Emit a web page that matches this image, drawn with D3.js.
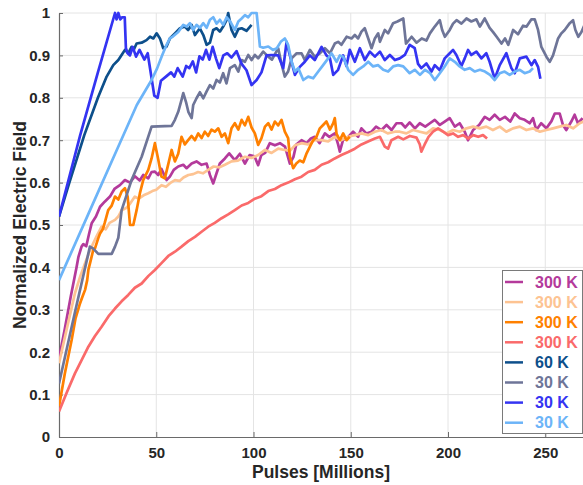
<!DOCTYPE html>
<html>
<head>
<meta charset="utf-8">
<script src="https://cdn.jsdelivr.net/npm/d3@7"></script>
<style>
  body { margin: 0; background: #fff; }
  svg { display: block; font-family: "Liberation Sans", Arial, sans-serif; }
</style>
</head>
<body>
<div id="chart"></div>
<script>
// Series values: [pulses (millions), normalized field]
const magenta300 = [[0,0.185],[3,0.255],[6,0.33],[9,0.4],[10,0.425],[11.6,0.449],[12.5,0.455],[14,0.45],[15.5,0.48],[16.8,0.504],[19,0.52],[21.1,0.543],[23.5,0.555],[26.2,0.567],[28.5,0.585],[31.3,0.594],[33.9,0.606],[36.5,0.6],[39,0.615],[41.5,0.605],[43.3,0.618],[45.9,0.61],[47.6,0.625],[49.3,0.626],[51,0.618],[52.7,0.632],[55.3,0.606],[57,0.614],[59,0.63],[61.3,0.638],[63.9,0.642],[65.6,0.634],[68.2,0.645],[70.7,0.65],[73.3,0.642],[75.9,0.645],[77.6,0.618],[79.3,0.598],[81,0.622],[82.7,0.645],[85.3,0.657],[87.5,0.669],[90.4,0.653],[93,0.668],[95.6,0.645],[98,0.665],[100.5,0.662],[102.4,0.641],[104,0.665],[106,0.67],[108.4,0.693],[111,0.688],[113.6,0.693],[116.2,0.685],[118.7,0.645],[120.5,0.66],[122,0.69],[124.7,0.7],[127.3,0.693],[129.5,0.704],[131.5,0.708],[134,0.693],[136.7,0.716],[139,0.708],[141.8,0.716],[143.5,0.69],[144.4,0.673],[146,0.7],[148.7,0.708],[151.2,0.72],[153.8,0.708],[155.5,0.728],[158,0.716],[160.7,0.72],[163,0.732],[165.8,0.724],[168.4,0.736],[171,0.724],[173.5,0.74],[176.1,0.74],[178,0.73],[180.3,0.742],[183,0.728],[185.5,0.74],[188.3,0.732],[190.7,0.74],[193.2,0.748],[195.8,0.736],[198.3,0.744],[200.9,0.752],[203.5,0.732],[206,0.74],[208.6,0.72],[210.3,0.7],[212.9,0.724],[216,0.736],[218.9,0.755],[221.4,0.748],[224,0.76],[226.6,0.748],[229.3,0.755],[232,0.744],[234.3,0.763],[236.9,0.752],[239.4,0.748],[242,0.74],[243.7,0.752],[245.4,0.724],[247.9,0.74],[250.6,0.728],[253.2,0.745],[254.9,0.763],[257.4,0.763],[259.1,0.736],[260.8,0.724],[263.4,0.744],[265.1,0.76],[266.8,0.74],[269.2,0.752]];

const peach300 = [[0,0.174],[4,0.255],[8.2,0.339],[11,0.38],[13.4,0.41],[15.5,0.435],[17.6,0.457],[19.5,0.475],[21.9,0.496],[24,0.49],[26,0.505],[28.8,0.512],[30.5,0.52],[32.2,0.535],[34.5,0.54],[36.5,0.55],[39,0.567],[41,0.562],[43.5,0.57],[45.9,0.575],[48,0.58],[50,0.583],[52.7,0.594],[55,0.59],[57.5,0.6],[59.6,0.606],[62,0.604],[64,0.612],[66.5,0.618],[69,0.62],[71.5,0.625],[74,0.622],[76.7,0.63],[79.5,0.638],[82.5,0.636],[85.3,0.642],[88.7,0.65],[92,0.652],[95.6,0.661],[99,0.658],[102.4,0.665],[105.9,0.677],[109.3,0.67],[112.7,0.68],[116,0.677],[118.7,0.675],[121.3,0.688],[124.7,0.693],[128,0.69],[131.5,0.7],[135,0.7],[138.4,0.697],[141.8,0.708],[145,0.7],[148.7,0.708],[152.1,0.712],[155.5,0.716],[159,0.712],[162.4,0.72],[165.8,0.724],[169,0.716],[172.7,0.72],[175.2,0.72],[178.6,0.716],[182,0.724],[185.5,0.72],[189,0.716],[192.3,0.728],[195.8,0.724],[199.2,0.716],[202.6,0.724],[206,0.72],[209.5,0.728],[212.9,0.732],[216.3,0.728],[219.7,0.732],[223.1,0.724],[226.6,0.732],[230,0.72],[233.4,0.728],[236.9,0.732],[240.3,0.724],[243.7,0.728],[247.2,0.72],[250.6,0.724],[254,0.728],[257.4,0.732],[260.8,0.736],[264.3,0.728],[267.7,0.74],[270,0.745]];

const orange300 = [[0,0.072],[3,0.15],[6.5,0.229],[8.5,0.28],[10.8,0.315],[12,0.33],[13.4,0.347],[14.5,0.37],[15.1,0.394],[16.5,0.42],[17.6,0.441],[18.5,0.445],[20.2,0.469],[21.1,0.48],[22.5,0.49],[23.5,0.505],[25.3,0.535],[27,0.545],[28.8,0.567],[30.5,0.56],[32.2,0.579],[33.9,0.587],[35.3,0.567],[36.5,0.5],[38.2,0.5],[39.9,0.535],[41.6,0.575],[43.3,0.606],[45.9,0.63],[47.6,0.657],[49.3,0.693],[51,0.655],[52.7,0.614],[54.4,0.61],[56,0.64],[57.9,0.677],[59.6,0.65],[61.3,0.668],[63,0.708],[64.7,0.69],[66.4,0.7],[68.2,0.71],[69.9,0.7],[71.6,0.716],[73.3,0.705],[75,0.72],[76.7,0.71],[78.4,0.725],[80.1,0.72],[81.9,0.728],[83.6,0.708],[85.3,0.716],[87,0.693],[88.7,0.728],[90.4,0.74],[92.2,0.725],[93.9,0.748],[95.6,0.735],[97.3,0.755],[99,0.73],[100.7,0.716],[102.4,0.689],[104.1,0.705],[105.9,0.732],[107.6,0.74],[109.3,0.725],[111,0.744],[112.7,0.735],[114.4,0.748],[116.1,0.72],[117.8,0.705],[118.7,0.661],[120.4,0.634],[122,0.645],[123.8,0.652],[125.6,0.648],[127.3,0.669],[129,0.685],[130.7,0.7],[132.4,0.708],[134.1,0.728],[135.8,0.736],[137.5,0.744],[139.3,0.725],[141,0.74],[141.8,0.752],[142.7,0.715],[144.4,0.7],[146.1,0.716],[147.8,0.7],[149.5,0.708]];

const salmon300 = [[0,0.06],[4,0.105],[8.2,0.15],[11.5,0.18],[15.1,0.213],[18.5,0.238],[21.9,0.26],[25.5,0.285],[28.8,0.303],[32.2,0.32],[35.6,0.335],[39,0.352],[42.5,0.362],[46,0.38],[49.3,0.394],[52.7,0.41],[56.2,0.427],[59.6,0.437],[63,0.449],[66.5,0.462],[69.9,0.472],[73.3,0.484],[76.7,0.496],[80.1,0.505],[83.6,0.516],[87,0.525],[90.4,0.535],[93.9,0.546],[97.3,0.552],[100.7,0.562],[104.1,0.568],[107.6,0.58],[111,0.585],[114.4,0.594],[117.8,0.6],[121.3,0.608],[124.7,0.614],[128.1,0.625],[131.5,0.63],[135,0.642],[138.4,0.648],[141.8,0.657],[145.2,0.665],[148.7,0.672],[152.1,0.68],[155.5,0.69],[158.9,0.697],[162.4,0.704],[165,0.708],[167.5,0.685],[169.2,0.68],[170.9,0.7],[174.4,0.708],[177,0.702],[180.4,0.71],[183.8,0.706],[185.5,0.69],[186.3,0.673],[188,0.69],[190,0.708],[192.3,0.72],[194.9,0.728],[197.5,0.72],[200,0.712],[202.6,0.716],[205.2,0.708],[207.8,0.712],[210.3,0.704],[213,0.712],[215.5,0.708],[218,0.712],[220.1,0.704]];

const darkBlue60 = [[0,0.52],[5,0.595],[13,0.712],[20,0.8],[24.5,0.85],[27.9,0.877],[30.5,0.889],[32.2,0.901],[33.9,0.913],[35.6,0.905],[37.3,0.92],[38.6,0.915],[39.9,0.928],[42.5,0.93],[45,0.936],[46.8,0.944],[48.5,0.94],[50.2,0.952],[51.9,0.94],[53.6,0.917],[55.3,0.921],[57,0.94],[59.6,0.952],[62.2,0.964],[64.7,0.968],[66.4,0.96],[68.2,0.972],[69.9,0.948],[72.4,0.964],[74.2,0.948],[75.9,0.925],[77.6,0.93],[79.3,0.96],[81,0.964],[82.7,0.956],[84.4,0.968],[86.2,0.984],[87,1.0],[88.7,0.96],[90.4,0.944],[92.2,0.962],[93.9,0.964],[96.4,0.958],[99,0.972]];

const slate30 = [[0,0.126],[8,0.29],[15.9,0.449],[17.5,0.445],[20.2,0.432],[27.1,0.432],[28.8,0.449],[30.5,0.47],[32.2,0.535],[37.3,0.606],[42.5,0.661],[47.6,0.732],[57.9,0.734],[59.6,0.748],[61.3,0.767],[63,0.795],[63.9,0.811],[65.3,0.79],[66.5,0.767],[68.2,0.752],[69,0.783],[70.7,0.799],[72.4,0.813],[74.2,0.799],[75.9,0.815],[77.6,0.83],[79.3,0.822],[81,0.842],[82.7,0.836],[84.4,0.858],[86.1,0.834],[87.9,0.87],[90.4,0.877],[92.2,0.862],[93.9,0.889],[95.6,0.885],[97.3,0.901],[99,0.889],[100.7,0.901],[102.4,0.893],[105,0.909],[107.6,0.897],[109.5,0.89],[112.7,0.917],[114.4,0.88],[116.1,0.85],[117.8,0.862],[119.6,0.893],[122.2,0.905],[124.7,0.905],[126.4,0.889],[129,0.913],[131.5,0.897],[134.1,0.905],[136.7,0.917],[139.3,0.905],[141.8,0.928],[143.5,0.932],[145.2,0.925],[147.9,0.944],[150.4,0.94],[152.1,0.948],[153.8,0.94],[155.5,0.956],[157.2,0.964],[159,0.94],[160.7,0.917],[162.4,0.94],[164.1,0.952],[165,0.932],[167.5,0.96],[169.2,0.952],[171.8,0.976],[174,0.98],[177,0.987],[178.4,0.928],[181.3,0.944],[183.8,0.93],[186.5,0.94],[188.9,0.935],[190.7,0.952],[193.2,0.968],[195.8,0.983],[197,0.96],[198.4,0.944],[200.9,0.96],[202.6,0.975],[204.4,0.983],[206.9,0.975],[209.5,0.987],[212,0.98],[214.6,0.985],[216.4,0.968],[218.9,0.987],[221.4,0.965],[223.2,0.955],[225,0.944],[227.5,0.928],[229.3,0.94],[231,0.925],[233.5,0.96],[236,0.95],[238.6,0.97],[240.4,0.968],[242.9,0.985],[244.6,0.985],[246.3,0.96],[248,0.92],[250.6,0.897],[252.3,0.885],[254,0.9],[256.6,0.94],[258.3,0.952],[260,0.96],[262.6,0.976],[264.3,0.983],[265.5,0.96],[267,0.944],[268.6,0.955],[270,0.97]];

const blue30 = [[0,0.52],[10.8,0.71],[20,0.86],[28.8,1.0],[29.6,0.985],[30.5,1.0],[31.5,0.985],[32.5,0.99],[33.8,0.99],[34.4,0.917],[35.3,0.905],[36.5,0.9],[37.9,0.92],[39.6,0.897],[41.4,0.913],[43.9,0.89],[45.6,0.905],[47.3,0.855],[49,0.805],[50.7,0.8],[52.4,0.84],[55,0.85],[57.6,0.86],[59.3,0.85],[61,0.87],[63.6,0.85],[65.4,0.875],[67,0.87],[68.8,0.886],[70.5,0.86],[72.2,0.898],[73.9,0.89],[75.6,0.913],[77.3,0.89],[79,0.92],[80.7,0.893],[82.4,0.87],[84.5,0.9],[86.5,0.905],[88.7,0.895],[91.3,0.91],[93.9,0.88],[96.4,0.865],[99,0.83],[101.6,0.842],[104.1,0.86],[106.7,0.9],[109.3,0.901],[112.7,0.9],[115.3,0.87],[117,0.932],[118.7,0.9],[121.3,0.854],[123.8,0.873],[126.4,0.885],[129,0.9],[131.5,0.889],[135,0.92],[137.5,0.9],[139.3,0.893],[141,0.854],[143.5,0.866],[146.1,0.9],[147.8,0.875],[149.5,0.913],[152.1,0.885],[154.7,0.917],[157.2,0.889],[159.8,0.909],[162.4,0.897],[165,0.909],[167.5,0.889],[170.1,0.901],[172.7,0.889],[175.2,0.893],[177.8,0.901],[180.3,0.925],[182.9,0.917],[184.6,0.88],[186.3,0.87],[188.9,0.881],[191.5,0.862],[193.2,0.877],[195.8,0.865],[198.3,0.893],[200.9,0.905],[202.6,0.913],[204.3,0.901],[206.9,0.875],[208.6,0.893],[210.3,0.913],[212,0.901],[214.6,0.909],[217.2,0.893],[219.7,0.905],[221.4,0.885],[224,0.845],[226.6,0.877],[230,0.905],[232.6,0.87],[234.3,0.858],[236.9,0.893],[240.3,0.897],[242.9,0.877],[244.6,0.889],[246.3,0.873],[247.5,0.845]];

const lightBlue30 = [[0,0.37],[15,0.525],[30,0.68],[40,0.783],[47.6,0.842],[50.5,0.87],[53,0.9],[55.3,0.925],[57,0.94],[58.7,0.945],[61.3,0.955],[63.9,0.972],[65.6,0.968],[67.3,0.976],[69,0.96],[70.7,0.972],[72.4,0.965],[74.2,0.976],[75.9,0.965],[77.6,0.984],[79.3,0.99],[81,0.975],[82.7,0.984],[84.4,0.972],[86.2,0.99],[88,0.98],[90.4,0.96],[92.2,0.98],[93.9,0.987],[95.6,0.995],[97.3,0.99],[99,1.0],[101.6,1.0],[102.4,0.964],[103.3,0.921],[105,0.918],[107.6,0.921],[110,0.913],[112,0.917],[114,0.932],[116.1,0.94],[117.8,0.925],[119.6,0.885],[121.3,0.862],[123,0.87],[125.6,0.842],[128.1,0.85],[130.7,0.846],[133.3,0.862],[135.8,0.877],[138.4,0.893],[140.1,0.905],[142.7,0.885],[144.4,0.9],[146.1,0.897],[148.7,0.866],[151.2,0.854],[153.8,0.866],[156.4,0.874],[159,0.885],[161.5,0.874],[164.1,0.877],[166.7,0.866],[169.2,0.862],[171.8,0.874],[174.4,0.877],[177,0.874],[180.3,0.858],[182.9,0.866],[185.6,0.854],[188.2,0.866],[190.8,0.858],[193.2,0.842],[195.8,0.858],[198.3,0.874],[200.9,0.893],[203.5,0.885],[206,0.874],[208.6,0.866],[211.2,0.87],[213.8,0.862],[216.4,0.866],[219,0.862],[221.6,0.854],[224,0.842],[226.6,0.858],[229.1,0.862],[231.7,0.854],[234.3,0.862],[236.9,0.866],[239.4,0.858],[242,0.862],[243.7,0.87]];

// legend order = drawing order
const seriesData = [magenta300, peach300, orange300, salmon300, darkBlue60, slate30, blue30, lightBlue30];
const seriesLabels = ['300 K', '300 K', '300 K', '300 K', '60 K', '30 K', '30 K', '30 K'];
const seriesColors = ['#b43a9b', '#fdc392', '#ff8000', '#fa6a6a', '#0d4f8b', '#6e7598', '#3434f2', '#6cb4f8'];

const xTicks = [0, 50, 100, 150, 200, 250];
const yTicks = [0, 0.1, 0.2, 0.3, 0.4, 0.5, 0.6, 0.7, 0.8, 0.9, 1];

const width = 583, height = 485;
const mLeft = 59, mTop = 13, mBottom = 437;

const x = d3.scaleLinear().domain([0, 270]).range([mLeft, mLeft + 270 * 1.945]);
const y = d3.scaleLinear().domain([0, 1]).range([mBottom, mTop]);

const svg = d3.select('#chart').append('svg')
    .attr('width', width)
    .attr('height', height);

svg.append('defs').append('clipPath').attr('id', 'plot-clip')
    .append('rect')
    .attr('x', mLeft).attr('y', mTop - 3)
    .attr('width', x(270) - mLeft).attr('height', mBottom - mTop + 3);

// grid
const grid = svg.append('g').attr('class', 'grid');
grid.selectAll('.gx').data(xTicks.filter(d => d > 0)).enter().append('line')
    .attr('x1', d => x(d)).attr('x2', d => x(d))
    .attr('y1', mTop).attr('y2', mBottom)
    .attr('stroke', '#e4e4e4').attr('stroke-width', 1);
grid.selectAll('.gy').data(yTicks.filter(d => d > 0)).enter().append('line')
    .attr('x1', mLeft).attr('x2', x(270))
    .attr('y1', d => y(d)).attr('y2', d => y(d))
    .attr('stroke', '#e4e4e4').attr('stroke-width', 1);

// axes with inward ticks
const xAxis = svg.append('g')
    .attr('transform', `translate(0,${mBottom})`)
    .call(d3.axisBottom(x).tickValues(xTicks).tickSizeInner(-5).tickSizeOuter(0).tickPadding(10));
const yAxis = svg.append('g')
    .attr('transform', `translate(${mLeft},0)`)
    .call(d3.axisLeft(y).tickValues(yTicks).tickFormat(d => String(+d.toFixed(1))).tickSizeInner(-4).tickSizeOuter(0).tickPadding(9));

[xAxis, yAxis].forEach(a => {
    a.select('.domain').attr('stroke', '#6a6a6a').attr('stroke-width', 1.2);
    a.selectAll('.tick line').attr('stroke', '#6a6a6a');
    a.selectAll('.tick text')
        .attr('fill', '#262626')
        .style('font-size', '15px')
        .style('font-weight', 'bold')
        .style('font-family', '"Liberation Sans", Arial, sans-serif');
});

// lines
const line = d3.line()
    .x(d => x(d[0]))
    .y(d => y(d[1]));

svg.append('g').attr('clip-path', 'url(#plot-clip)')
    .selectAll('path')
    .data(seriesData)
    .enter()
    .append('path')
    .attr('d', line)
    .attr('fill', 'none')
    .attr('stroke', (d, i) => seriesColors[i])
    .attr('stroke-width', 2.7)
    .attr('stroke-linejoin', 'round');

// axis titles
svg.append('text')
    .attr('x', (mLeft + 583) / 2)
    .attr('y', 478)
    .attr('text-anchor', 'middle')
    .style('font-size', '17.5px')
    .style('font-weight', 'bold')
    .attr('fill', '#262626')
    .text('Pulses [Millions]');

svg.append('text')
    .attr('transform', `translate(26, ${(mTop + mBottom) / 2}) rotate(-90)`)
    .attr('text-anchor', 'middle')
    .style('font-size', '17.5px')
    .style('font-weight', 'bold')
    .attr('fill', '#262626')
    .text('Normalized Electric Field');

// legend
const legend = svg.append('g').attr('class', 'legend');
legend.append('rect')
    .attr('x', 502.5).attr('y', 270.5)
    .attr('width', 80).attr('height', 163)
    .attr('fill', '#fff')
    .attr('stroke', '#7a7a7a')
    .attr('stroke-width', 1);

const item = legend.selectAll('.item')
    .data(seriesLabels)
    .enter()
    .append('g')
    .attr('class', 'item')
    .attr('transform', (d, i) => `translate(0, ${282 + i * 20.1})`);

item.append('line')
    .attr('x1', 505).attr('x2', 523)
    .attr('y1', 0).attr('y2', 0)
    .attr('stroke', (d, i) => seriesColors[i])
    .attr('stroke-width', 2.5);

item.append('text')
    .attr('x', 535)
    .attr('y', 5.5)
    .style('font-size', '16px')
    .style('font-weight', 'bold')
    .attr('fill', (d, i) => seriesColors[i])
    .text(d => d);
</script>
</body>
</html>
